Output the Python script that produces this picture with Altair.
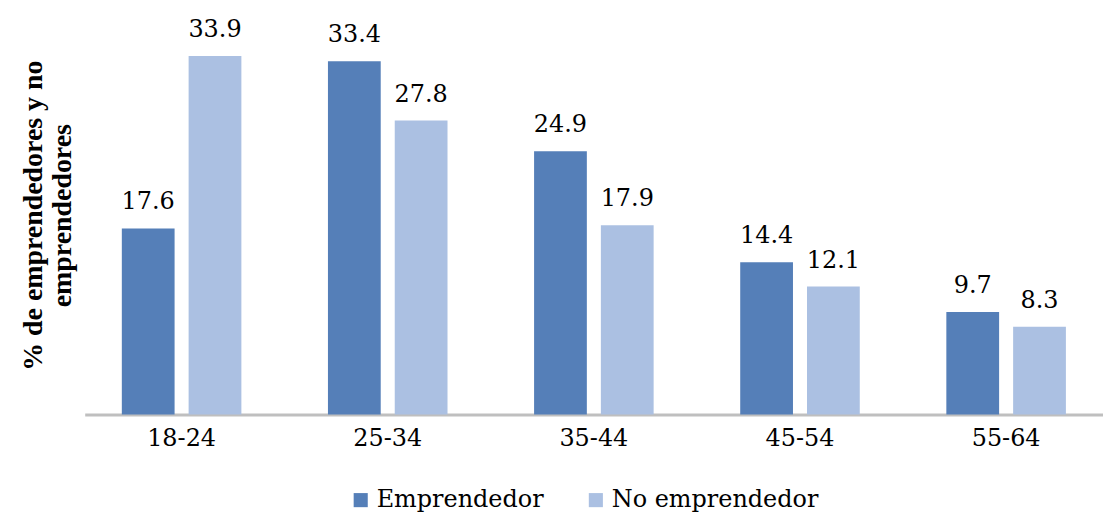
import altair as alt
import pandas as pd

ages = ["18-24", "25-34", "35-44", "45-54", "55-64"]
emprendedor = [17.6, 33.4, 24.9, 14.4, 9.7]
no_emprendedor = [33.9, 27.8, 17.9, 12.1, 8.3]
series = ["Emprendedor", "No emprendedor"]
colors = ["#557fb8", "#abc0e2"]

rows = []
for a, e, n in zip(ages, emprendedor, no_emprendedor):
    rows.append({"edad": a, "grupo": series[0], "valor": e})
    rows.append({"edad": a, "grupo": series[1], "valor": n})
df = pd.DataFrame(rows)

serif = "DejaVu Serif"

base = alt.Chart(df).encode(
    x=alt.X("edad:N", sort=ages, title=None,
            scale=alt.Scale(paddingInner=0.42, paddingOuter=0.18),
            axis=alt.Axis(labelAngle=0, labelFont=serif, labelFontSize=24,
                          labelColor="#000000", labelPadding=12, ticks=False,
                          domainColor="#bfbfbf", domainWidth=3)),
    xOffset=alt.XOffset("grupo:N", sort=series,
                        scale=alt.Scale(paddingInner=0.21)),
    y=alt.Y("valor:Q", scale=alt.Scale(domain=[0, 37.7], nice=False),
            title=["% de emprendedores y no", "emprendedores"],
            axis=alt.Axis(labels=False, ticks=False, domain=False, grid=False,
                          titleFont="Liberation Serif", titleFontSize=28,
                          titleFontWeight="bold", titleColor="#000000",
                          titlePadding=8, titleLineHeight=29)),
)

bars = base.mark_bar().encode(
    color=alt.Color("grupo:N", sort=series,
                    scale=alt.Scale(domain=series, range=colors),
                    legend=alt.Legend(title=None, orient="none", direction="horizontal",
                                      legendX=265, legendY=474,
                                      labelFont=serif, labelFontSize=24,
                                      labelLimit=400,
                                      labelColor="#000000", symbolType="square",
                                      symbolSize=200, symbolStrokeWidth=0,
                                      columnPadding=40))
)

labels = base.mark_text(dy=-26, font=serif, fontSize=24, color="#000000").encode(
    text=alt.Text("valor:Q", format=".1f")
)

chart = (bars + labels).properties(
    width=1022, height=400,
    padding={"left": 12, "top": 7, "right": 0, "bottom": 0}
).configure_view(stroke=None)

chart.save("out.html", embed_options={"renderer": "svg", "actions": False})
